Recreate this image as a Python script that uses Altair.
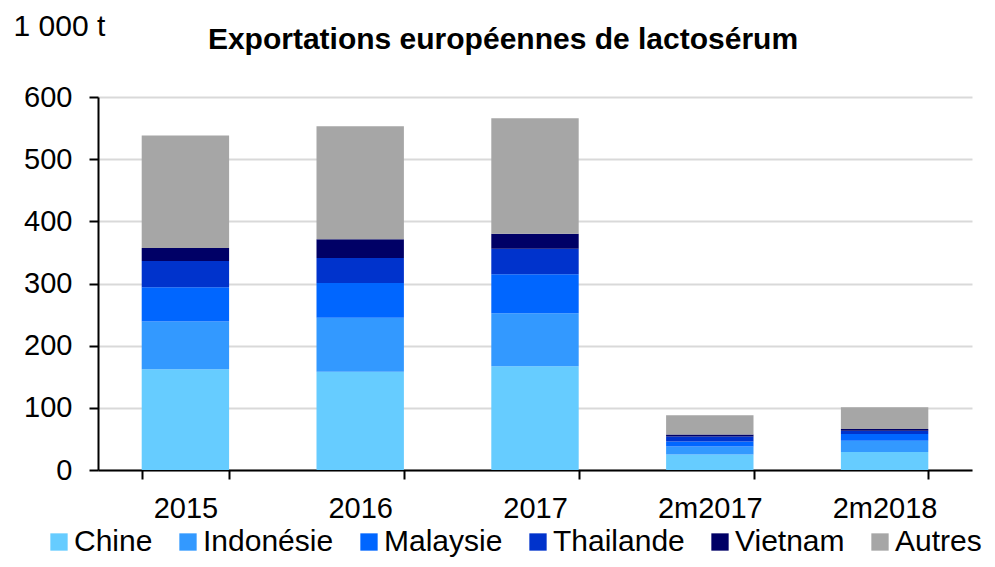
import altair as alt
import pandas as pd

years = ["2015", "2016", "2017", "2m2017", "2m2018"]
countries = ["Chine", "Indonésie", "Malaysie", "Thailande", "Vietnam", "Autres"]
colors = ["#66CCFF", "#3399FF", "#0066FF", "#0033CC", "#000066", "#A6A6A6"]

chine = [162, 158, 167, 25, 29]
indonesie = [77, 87, 85, 13, 18]
malaysie = [55, 56, 63, 8, 11]
thailande = [42, 40, 41, 8, 5]
vietnam = [21, 30, 24, 3, 3]
autres = [181, 182, 186, 31, 35]

series = [chine, indonesie, malaysie, thailande, vietnam, autres]
rows = []
for ci, (c, vals) in enumerate(zip(countries, series)):
    for y, v in zip(years, vals):
        rows.append({"annee": y, "pays": c, "valeur": v, "ordre": ci})
df = pd.DataFrame(rows)

FONT = "Liberation Sans"

chart = alt.Chart(df).mark_bar().encode(
    x=alt.X(
        "annee:N",
        sort=years,
        scale=alt.Scale(paddingInner=0.5, paddingOuter=0.25),
        axis=alt.Axis(
            title=None,
            labelAngle=0,
            labelFontSize=29,
            labelFont=FONT,
            labelColor="black",
            labelPadding=15,
            tickBand="extent",
            ticks=True,
            tickSize=9,
            tickWidth=2,
            tickColor="black",
            domainColor="black",
            domainWidth=2,
            grid=False,
        ),
    ),
    y=alt.Y(
        "valeur:Q",
        stack="zero",
        scale=alt.Scale(domain=[0, 600], nice=False),
        axis=alt.Axis(
            values=[0, 100, 200, 300, 400, 500, 600],
            title="1 000 t",
            titleAngle=0,
            titleX=-85,
            titleY=-62,
            titleAlign="left",
            titleBaseline="alphabetic",
            titleFontSize=30,
            titleFontWeight="normal",
            titleFont=FONT,
            titleColor="black",
            labelFontSize=29,
            labelFont=FONT,
            labelColor="black",
            labelPadding=17,
            tickSize=9,
            tickWidth=2,
            tickColor="black",
            domainColor="black",
            domainWidth=2,
            grid=True,
            gridColor="#D9D9D9",
            gridWidth=2,
        ),
    ),
    color=alt.Color(
        "pays:N",
        sort=countries,
        scale=alt.Scale(domain=countries, range=colors),
        legend=alt.Legend(
            title=None,
            orient="none",
            direction="horizontal",
            legendX=-54,
            legendY=430,
            symbolType="square",
            symbolSize=300,
            symbolStrokeWidth=0,
            labelFontSize=30,
            labelFont=FONT,
            labelColor="black",
            labelOffset=0,
            columnPadding=20,
        ),
    ),
    order=alt.Order("ordre:Q", sort="ascending"),
).properties(
    width=874,
    height=373,
    title=alt.TitleParams(
        text="Exportations européennes de lactosérum",
        font=FONT,
        fontSize=30,
        fontWeight="bold",
        color="black",
        anchor="middle",
        dx=-32,
        dy=48,
    ),
    padding={"left": 90, "top": 89, "right": 15, "bottom": 90},
    autosize=alt.AutoSizeParams(type="none"),
).configure_view(stroke=None)

chart.save("out.html", embed_options={"renderer": "svg", "actions": False})
